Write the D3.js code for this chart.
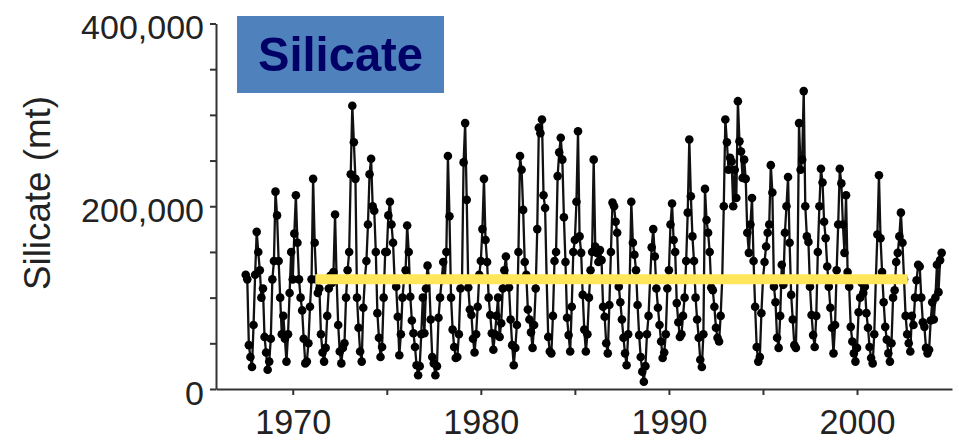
<!DOCTYPE html>
<html>
<head>
<meta charset="utf-8">
<script src="https://cdn.jsdelivr.net/npm/d3@7"></script>
<style>
  html, body { margin: 0; padding: 0; background: #fff; }
  svg { display: block; font-family: "Liberation Sans", Arial, sans-serif; }
  .axis path, .axis line { stroke: #333; stroke-width: 2px; }
  .axis text { fill: #222; font-size: 34px; }
</style>
</head>
<body>
<svg id="chart" width="959" height="446"></svg>
<script>
// monthly silicate load, thousands of mt, starting Jul 1967
const startYear = 1967;
const startMonth = 7;
const silicateK = [
  125, 120, 48, 35, 24, 70,                                  // 1967
  125, 172, 150, 130, 100, 110, 57, 40, 21, 30, 55, 120,     // 1968
  140, 216, 190, 140, 100, 60, 80, 55, 30, 60, 105, 150,     // 1969
  120, 170, 212, 160, 120, 100, 86, 55, 28, 30, 50, 90,      // 1970
  120, 230, 160, 120, 105, 110, 60, 40, 30, 45, 80, 110,     // 1971
  124, 116, 128, 191, 120, 70, 41, 28, 45, 50, 100, 130,     // 1972
  150, 235, 310, 270, 230, 100, 67, 41, 30, 89, 120, 140,    // 1973
  180, 235, 252, 200, 195, 150, 83, 56, 35, 46, 100, 150,    // 1974
  150, 190, 205, 180, 160, 119, 112, 79, 37, 60, 100, 120,   // 1975
  130, 179, 150, 101, 75, 61, 46, 26, 15, 25, 60, 100,       // 1976
  61, 110, 135, 120, 76, 35, 28, 15, 25, 78, 100, 119,       // 1977
  139, 120, 150, 255, 189, 100, 65, 46, 34, 35, 60, 110,     // 1978
  120, 248, 291, 207, 111, 87, 81, 55, 40, 60, 90, 125,      // 1979
  140, 175, 230, 163, 139, 100, 81, 61, 43, 60, 80, 100,     // 1980
  57, 72, 110, 130, 145, 119, 111, 76, 48, 26, 45, 70,       // 1981
  150, 255, 240, 196, 139, 125, 87, 76, 62, 45, 70, 110,     // 1982
  175, 286, 280, 295, 212, 198, 120, 57, 41, 39, 80, 140,    // 1983
  150, 233, 259, 275, 251, 188, 139, 78, 59, 41, 90, 150,    // 1984
  163, 205, 282, 167, 149, 103, 65, 41, 60, 100, 130, 150,   // 1985
  251, 156, 149, 139, 152, 141, 90, 79, 50, 39, 92, 150,     // 1986
  204, 200, 183, 171, 112, 95, 76, 56, 39, 26, 60, 120,      // 1987
  205, 160, 147, 130, 92, 59, 35, 19, 8, 25, 60, 80,         // 1988
  120, 155, 175, 145, 110, 89, 70, 52, 34, 40, 60, 110,      // 1989
  130, 180, 203, 163, 150, 94, 73, 57, 60, 80, 100, 140,     // 1990
  193, 273, 211, 167, 140, 100, 76, 56, 32, 24, 60, 219,     // 1991
  185, 171, 150, 111, 108, 90, 67, 56, 52, 80, 120, 200,     // 1992
  295, 270, 240, 253, 249, 200, 240, 209, 315, 271, 260, 231, // 1993
  251, 230, 171, 149, 180, 209, 140, 90, 46, 30, 35, 83,     // 1994
  120, 139, 156, 171, 180, 245, 215, 112, 95, 56, 45, 80,    // 1995
  136, 114, 171, 200, 232, 160, 103, 76, 48, 45, 120, 291,   // 1996
  240, 251, 326, 200, 167, 161, 112, 81, 59, 46, 80, 150,    // 1997
  200, 241, 226, 183, 165, 134, 112, 89, 67, 39, 70, 130,    // 1998
  180, 241, 225, 180, 149, 212, 128, 112, 68, 52, 39, 30,    // 1999
  45, 84, 100, 116, 105, 112, 83, 67, 46, 34, 28, 60,        // 2000
  120, 169, 234, 165, 128, 95, 68, 54, 39, 30, 50, 100,      // 2001
  108, 139, 149, 167, 193, 160, 120, 80, 60, 50, 41, 80,     // 2002
  70, 100, 119, 136, 134, 100, 73, 68, 45, 39, 43, 75,       // 2003
  95, 76, 100, 136, 106, 141, 149                            // 2004
];

// long-term mean line
const meanValue = 120000;
const meanStart = 1971.2;
const meanEnd = 2002.7;

const yTicks = [0, 50000, 100000, 150000, 200000, 250000, 300000, 350000, 400000];
const yLabels = [0, 200000, 400000];
const xTicks = [1970, 1975, 1980, 1985, 1990, 1995, 2000];
const xLabels = [1970, 1980, 1990, 2000];

const data = silicateK.map((v, i) => ({
  t: startYear + (startMonth - 1 + i) / 12,
  v: v * 1000
}));

const svg = d3.select('#chart');

const x = d3.scaleLinear().domain([1965.92, 2005.05]).range([216, 952]);
const y = d3.scaleLinear().domain([0, 400000]).range([389, 23.5]);

// ejes
svg.append('g')
  .attr('class', 'axis')
  .attr('transform', 'translate(216,0)')
  .call(d3.axisLeft(y)
    .tickValues(yTicks)
    .tickSize(6)
    .tickSizeOuter(0)
    .tickPadding(6)
    .tickFormat(d => yLabels.includes(d) ? d3.format(',')(d) : ''))
  .selectAll('text').attr('dy', '0.45em');

svg.append('g')
  .attr('class', 'axis')
  .attr('transform', 'translate(0,389)')
  .call(d3.axisBottom(x)
    .tickValues(xTicks)
    .tickSize(6)
    .tickSizeOuter(0)
    .tickPadding(14)
    .tickFormat(d => xLabels.includes(d) ? String(d) : ''))
  .selectAll('text')
  .style('font-size', '35px')
  .attr('textLength', 76)
  .attr('lengthAdjust', 'spacingAndGlyphs');

// titulo eje y
svg.append('text')
  .attr('transform', 'translate(50,193) rotate(-90)')
  .attr('text-anchor', 'middle')
  .attr('textLength', 194)
  .attr('lengthAdjust', 'spacingAndGlyphs')
  .style('font-size', '36px')
  .style('fill', '#222')
  .text('Silicate (mt)');

// serie
const line = d3.line().x(d => x(d.t)).y(d => y(d.v));

svg.append('path')
  .datum(data)
  .attr('d', line)
  .attr('fill', 'none')
  .attr('stroke', '#111')
  .attr('stroke-width', 2.3);

svg.append('g')
  .selectAll('circle')
  .data(data)
  .enter().append('circle')
  .attr('cx', d => x(d.t))
  .attr('cy', d => y(d.v))
  .attr('r', 4.3)
  .attr('fill', '#000');

// linea media amarilla
svg.append('line')
  .attr('x1', x(meanStart))
  .attr('x2', x(meanEnd))
  .attr('y1', y(meanValue))
  .attr('y2', y(meanValue))
  .attr('stroke', '#ffe65a')
  .attr('stroke-width', 10);

// etiqueta
svg.append('rect')
  .attr('x', 237)
  .attr('y', 16)
  .attr('width', 207)
  .attr('height', 77)
  .attr('fill', '#4f81bd');

svg.append('text')
  .attr('x', 258)
  .attr('y', 71)
  .attr('textLength', 165)
  .attr('lengthAdjust', 'spacingAndGlyphs')
  .style('font-size', '49px')
  .style('font-weight', 'bold')
  .style('fill', '#000066')
  .text('Silicate');
</script>
</body>
</html>
